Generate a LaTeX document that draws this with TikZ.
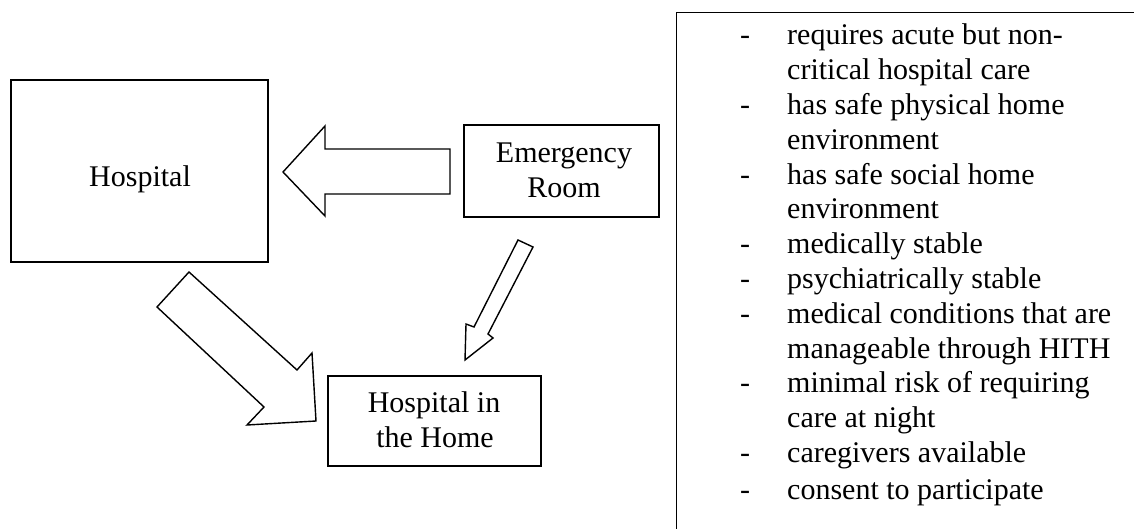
\documentclass[tikz,border=0pt]{standalone}
\usepackage{fontspec}
\setmainfont{Liberation Serif}
\begin{document}
\begin{tikzpicture}[x=1pt,y=-1pt,
  box/.style={draw=black, line width=1.4pt, inner sep=0pt, fill=none},
  lbl/.style={inner sep=0pt, font=\fontsize{30}{34.8}\selectfont},
  blockarrow/.style={draw=black, line width=1.4pt, fill=white, line join=miter}]
\clip (0,0) rectangle (1134,529);
% boxes
\node[box, minimum width=257pt, minimum height=182pt] (hosp) at (139.5,171) {};
\node[box, minimum width=195pt, minimum height=92pt] (er) at (561.5,171) {};
\node[box, minimum width=213pt, minimum height=90pt] (hith) at (434.5,421) {};
\node[box, anchor=north west, minimum width=500pt, minimum height=560pt] (crit) at (676,12) {};
% labels
\node[lbl, anchor=base] (hosplbl) at (140,187) {Hospital};
\node[lbl, anchor=base] (erlbl1) at (564,163) {Emergency};
\node[lbl, anchor=base] (erlbl2) at (564,198) {Room};
\node[lbl, anchor=base] (hithlbl1) at (434,412) {Hospital in};
\node[lbl, anchor=base] (hithlbl2) at (435,447) {the Home};
\node[lbl, anchor=base west] (critlist) at (740,45) {%
\begin{tabular}[t]{@{}p{47pt}@{}l@{}}
-  & requires acute but non-\\
   & critical hospital care\\
-  & has safe physical home\\
   & environment\\
-  & has safe social home\\
   & environment\\
-  & medically stable\\
-  & psychiatrically stable\\
-  & medical conditions that are\\
   & manageable through HITH\\
-  & minimal risk of requiring\\
   & care at night\\
-  & caregivers available\\[2pt]
-  & consent to participate
\end{tabular}};
% block arrows
\draw[blockarrow] (450,149) -- (325,149) -- (325,126) -- (283,172) -- (325,216) -- (325,194) -- (450,194) -- cycle;
\draw[blockarrow] (189,272) -- (297,370) -- (312,353) -- (316,421) -- (247,425) -- (264,407) -- (157,307) -- cycle;
\draw[blockarrow] (518,240) -- (533,247) -- (488,334) -- (493,338) -- (465,360) -- (466,324) -- (474,327) -- cycle;
\end{tikzpicture}
\end{document}
